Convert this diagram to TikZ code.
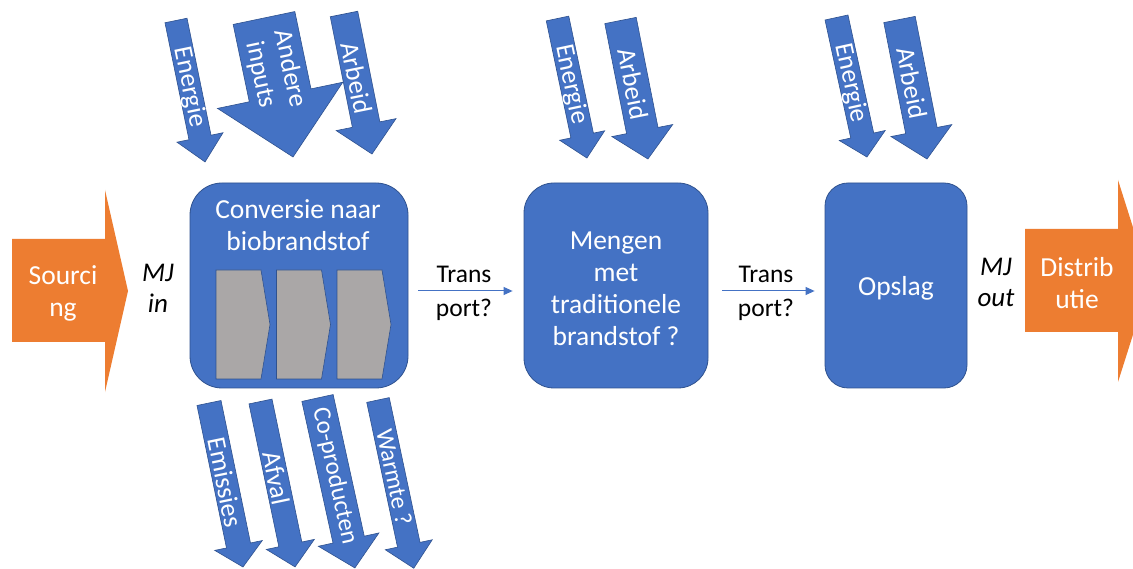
\documentclass[tikz,border=0pt]{standalone}
\usepackage{fontspec}
\setmainfont{Carlito}
\usetikzlibrary{arrows.meta}

\definecolor{obl}{HTML}{4472C4}
\definecolor{obd}{HTML}{2F528F}
\definecolor{org}{HTML}{ED7D31}
\definecolor{gry}{HTML}{AAA7A7}

\tikzset{
  box/.style={draw=obd, line width=0.8pt, fill=obl, inner sep=0pt},
  wtext/.style={text=white, align=center, inner sep=0pt, font=\fontsize{27.5}{32}\selectfont},
  btext/.style={text=black, align=center, inner sep=0pt, font=\fontsize{25.5}{34}\selectfont},
  mjtext/.style={text=black, align=center, inner sep=0pt, font=\fontsize{27}{31}\selectfont\itshape},
  tilt/.style={fill=obl, draw=obd, line width=0.6pt, line join=miter},
  tilttext/.style={text=white, align=center, inner sep=0pt, font=\fontsize{26.5}{30}\selectfont},
  bigarrow/.style={fill=org},
  stage/.style={fill=gry, draw=obd, line width=0.6pt},
  flow/.style={draw=obl, line width=1pt, -{Triangle[length=9pt,width=8pt]}}
}

% tilted block arrow: name, top-centre, direction, length, shaft width,
% head width, head length, label distance along the axis, label
\newcommand\tiltarrow[9]{%
  \begin{scope}[shift={#2}, rotate=#3]
    \path[tilt] (0,-#5/2) -- (#4-#7,-#5/2) -- (#4-#7,-#6/2) -- (#4,0)
      -- (#4-#7,#6/2) -- (#4-#7,#5/2) -- (0,#5/2) -- cycle;
    \node[tilttext, rotate=#3] (#1) at (#8,0) {#9};
  \end{scope}}

\begin{document}
\begin{tikzpicture}[x=1pt, y=-1pt]
  \clip (0,0) rectangle (1133,569);
  \fill[white] (0,0) rectangle (1133,569);

  % input and output flows
  \path[bigarrow] (12,239) -- (105,239) -- (105,190) -- (128,291)
    -- (105,392) -- (105,342) -- (12,342) -- cycle;
  \node[wtext] (sourcing) at (63,293) {Sourci\\ng};
  \path[bigarrow] (1025,229) -- (1118,229) -- (1118,180) -- (1150,281)
    -- (1118,382) -- (1118,332) -- (1025,332) -- cycle;
  \node[wtext] (distrib) at (1077,283) {Distrib\\utie};

  \node[mjtext] (mjin) at (158,288) {MJ\\in};
  \node[mjtext] (mjout) at (996,282) {MJ\\out};

  % process steps
  \node[box, minimum width=218pt, minimum height=205pt, rounded corners=32pt] (conv) at (299,285.5) {};
  \node[wtext] (convlabel) at (298,225) {Conversie naar\\biobrandstof};
  \foreach \i in {0,1,2} {
    \path[stage, shift={(216+60.5*\i,0)}] (0,270) -- (45,270) -- (54,324.5)
      -- (45,379) -- (0,379) -- cycle;
  }

  \node[box, minimum width=184pt, minimum height=205pt, rounded corners=30pt] (meng) at (616,285.5) {};
  \node[wtext] (menglabel) at (616,289) {Mengen\\met\\traditionele\\brandstof ?};

  \node[box, minimum width=142pt, minimum height=205pt, rounded corners=23pt] (opsl) at (896,285.5) {};
  \node[wtext] (opsllabel) at (896,288) {Opslag};

  % transport between the steps
  \draw[flow] ([xshift=10pt, yshift=-5.5pt]conv.east) -- ([xshift=-11pt, yshift=-5.5pt]meng.west);
  \node[btext] (trans1) at (464,293) {Trans\\port?};
  \draw[flow] ([xshift=14pt, yshift=-5.5pt]meng.east) -- ([xshift=-10pt, yshift=-5.5pt]opsl.west);
  \node[btext] (trans2) at (766,293) {Trans\\port?};

  % inputs to the conversion
  \tiltarrow{en1}{(176,20.5)}{-78.4}{144.4}{22.5}{47}{25}{68}{Energie}
  \tiltarrow{andere}{(264,18)}{-78.2}{142}{63}{128}{63}{55}{Andere\\inputs}
  \tiltarrow{ar1}{(344,14)}{-78.7}{142.8}{28}{61}{30}{65}{Arbeid}
  % inputs to the blending
  \tiltarrow{en2}{(557.5,18.5)}{-78.1}{142.6}{23}{46}{23}{67}{Energie}
  \tiltarrow{ar2}{(620.5,20.5)}{-78.8}{141.2}{32}{62}{29}{65}{Arbeid}
  % inputs to the storage
  \tiltarrow{en3}{(836.5,17.5)}{-77.7}{142.8}{23.5}{47}{22}{67}{Energie}
  \tiltarrow{ar3}{(899.5,19.5)}{-78.85}{142.2}{32}{62}{29}{65}{Arbeid}
  % outputs of the conversion
  \tiltarrow{emi}{(209,403)}{-78.3}{167.5}{24.5}{48.5}{22}{81}{Emissies}
  \tiltarrow{afv}{(260.5,401.5)}{-78.2}{169}{23.5}{49}{23}{78}{Afval}
  \tiltarrow{cop}{(317.5,398)}{-77.6}{174}{32}{62}{29}{80}{\fontsize{25}{29}\selectfont Co-producten}
  \tiltarrow{war}{(378,400)}{-78}{172}{23}{48}{24}{79}{\fontsize{24.5}{29}\selectfont Warmte ?}
\end{tikzpicture}
\end{document}
